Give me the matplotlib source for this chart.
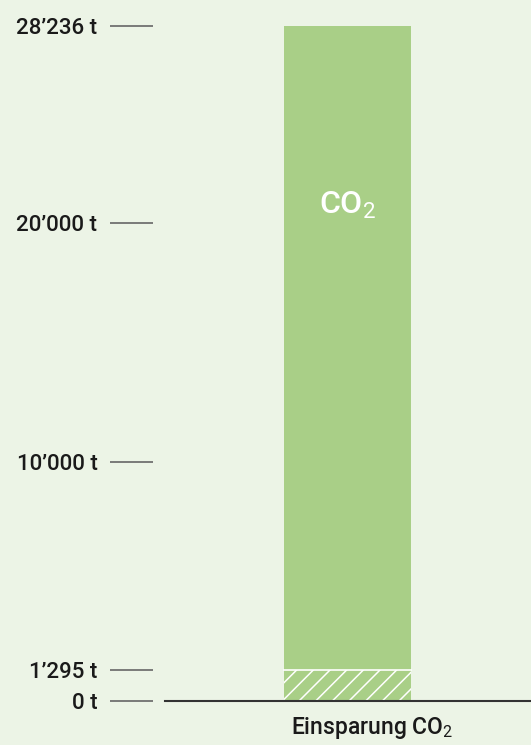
import matplotlib
matplotlib.use("Agg")
import matplotlib.pyplot as plt

plt.rcParams['font.family'] = ['Roboto', 'DejaVu Sans']
plt.rcParams['mathtext.fontset'] = 'custom'
plt.rcParams['mathtext.rm'] = 'Roboto'
plt.rcParams['mathtext.it'] = 'Roboto'
plt.rcParams['hatch.color'] = 'white'
plt.rcParams['hatch.linewidth'] = 1.1

# data
category = ["Einsparung CO$_2$"]
saved = [1295]
total = [28236]
tick_values = [0, 1295, 10000, 20000, 28236]
tick_labels = ["0 t", "1\u2019295 t", "10\u2019000 t", "20\u2019000 t", "28\u2019236 t"]

bg = "#ecf4e6"
green = "#a9cf87"

fig = plt.figure(figsize=(5.31, 7.45), dpi=100, facecolor=bg)
ax = fig.add_axes([165 / 531, 44 / 745, 366 / 531, 701 / 745])
ax.set_facecolor(bg)

x = [0.4986]
w = 0.347
ax.bar(x, saved, width=w, color=green, hatch="//", edgecolor="white", linewidth=0)
ax.bar(x, [t - s for t, s in zip(total, saved)], bottom=saved, width=w, color=green, linewidth=0)
ax.axhline(saved[0], xmin=x[0] - w / 2, xmax=x[0] + w / 2, color="white", lw=1.2)

ax.set_xlim(0, 1)
ax.set_ylim(0, 29330)

for s in ["top", "right", "left"]:
    ax.spines[s].set_visible(False)
ax.spines["bottom"].set_color("#333333")
ax.spines["bottom"].set_linewidth(1.5)
ax.set_xticks([])

# ticks sit a little left of the baseline start
ax.spines["left"].set_position(("outward", 8.6))
ax.set_yticks(tick_values)
ax.set_yticklabels(tick_labels)
ax.tick_params(axis="y", length=31, width=1.2, color="#666666", pad=9,
               labelsize=16, labelcolor="#1a1a1a")
for lab in ax.get_yticklabels():
    lab.set_fontweight("medium")

ax.text(x[0], 20750, "CO$_2$", color="white", fontsize=23, ha="center", va="center",
        fontweight="medium")
ax.text(0.566, -0.039, category[0], transform=ax.transAxes, ha="center", va="center",
        fontsize=16.5, color="#1a1a1a", fontweight="medium")

fig.savefig("out.png", dpi=100, facecolor=bg)
